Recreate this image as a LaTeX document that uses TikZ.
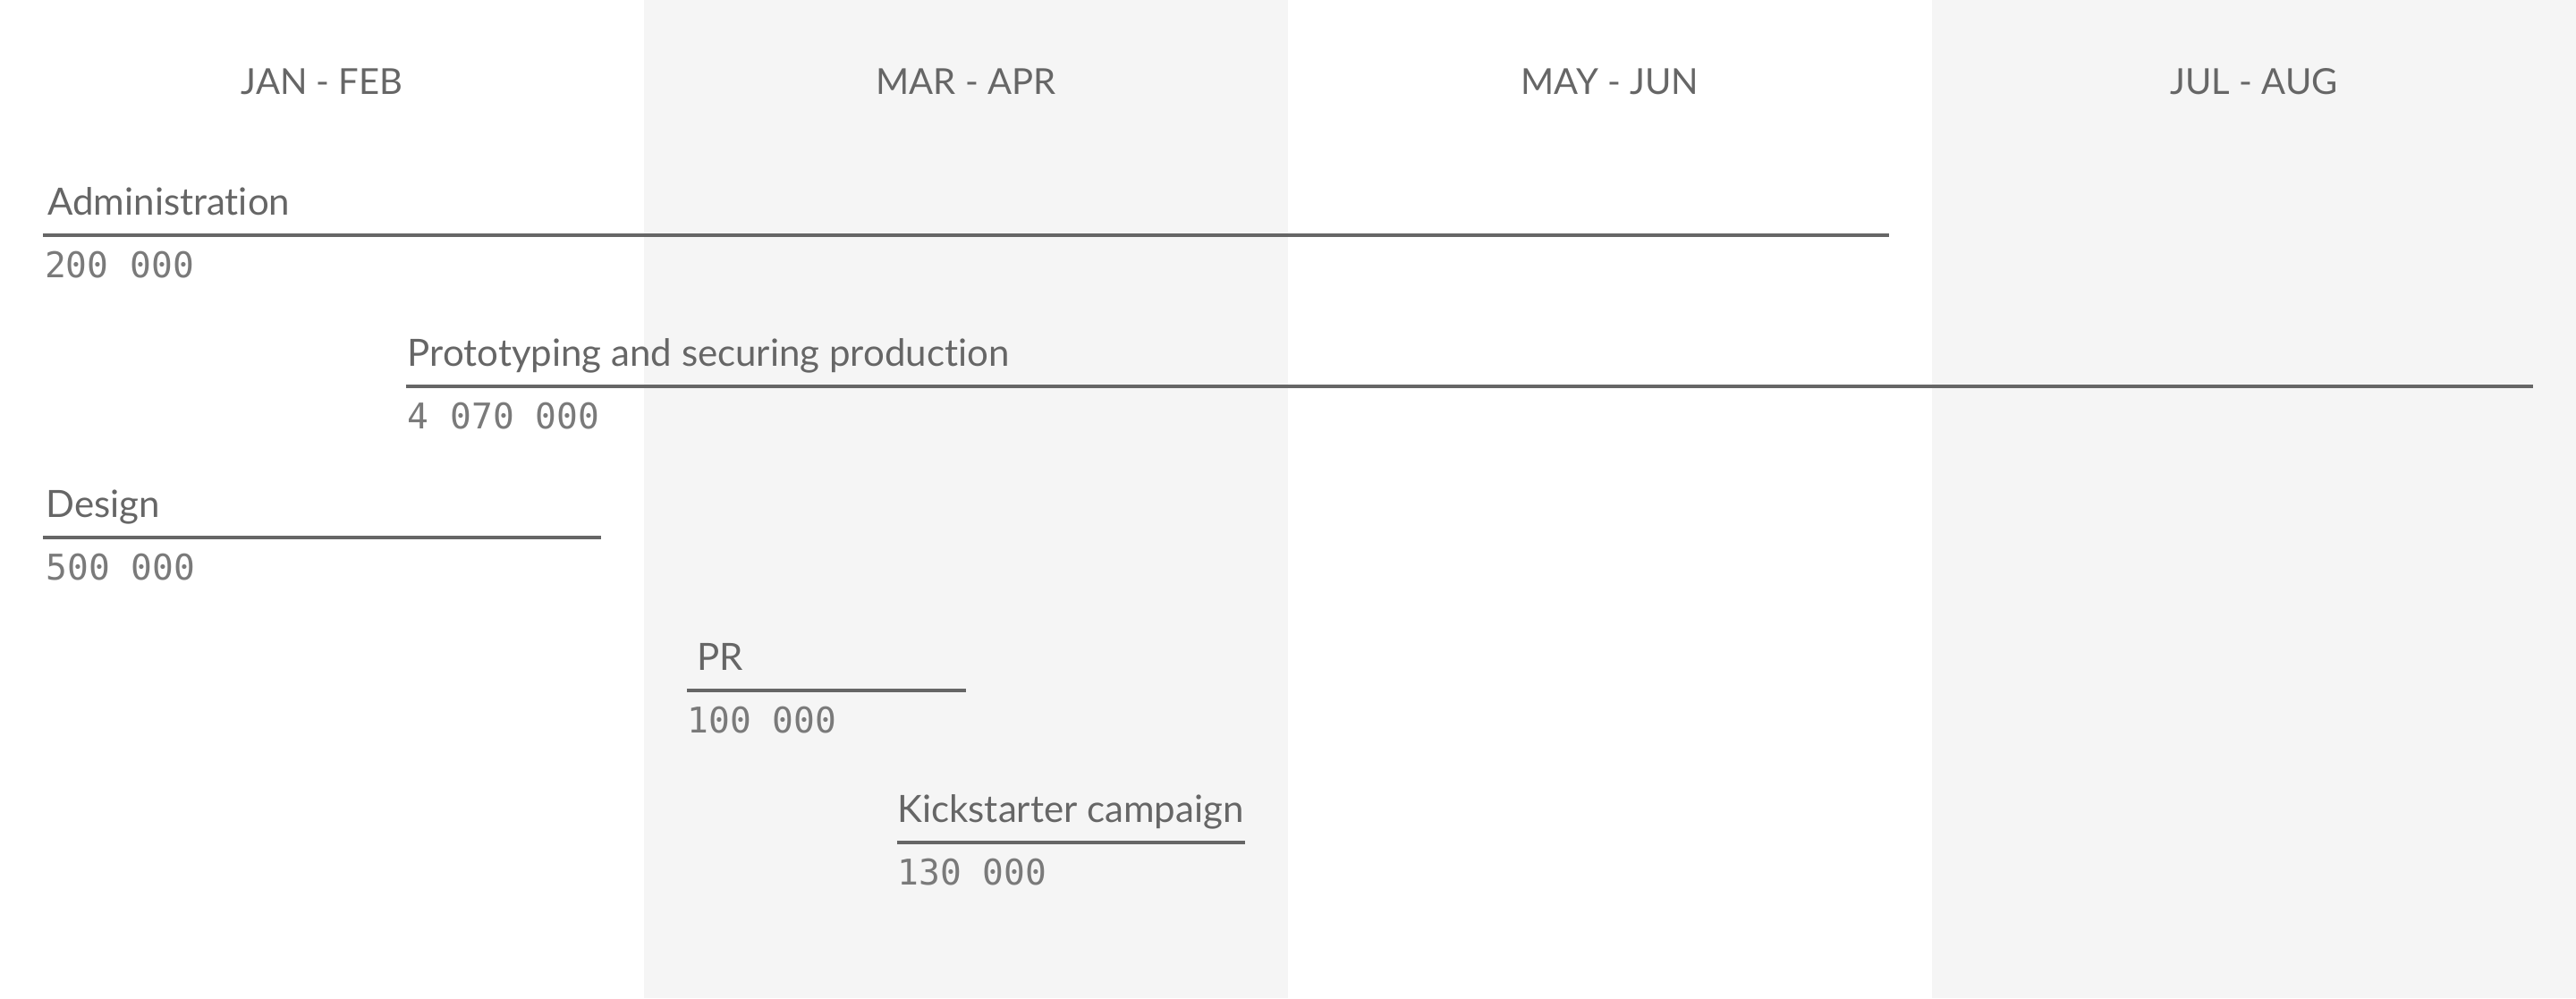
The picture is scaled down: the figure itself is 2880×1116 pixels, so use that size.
\documentclass[tikz,border=0pt]{standalone}
\usepackage{fontspec}
\setmainfont[Ligatures={NoCommon}]{Lato}
\newfontfamily\numfont{DejaVu Sans Mono}
\definecolor{ink}{HTML}{666666}
\definecolor{numink}{HTML}{7A7A7A}
\definecolor{band}{HTML}{F5F5F5}
\tikzset{
  hdr/.style={anchor=base, text=ink, font=\fontsize{20}{24}\selectfont, inner sep=0pt},
  lbl/.style={anchor=base west, text=ink, font=\fontsize{21}{25}\selectfont, inner sep=0pt},
  num/.style={anchor=base west, text=numink, font=\numfont\fontsize{19.8}{23}\selectfont, inner sep=0pt},
  bar/.style={draw=ink, line width=2pt}
}
\begin{document}
\begin{tikzpicture}[x=0.5pt,y=-0.5pt]
\useasboundingbox (0,0) rectangle (2880,1116);
\fill[band] (720,0) rectangle (1440,1116);
\fill[band] (2160,0) rectangle (2880,1116);
% headers
\node[hdr] (h1) at (360,105) {JAN - FEB};
\node[hdr] (h2) at (1080,105) {MAR - APR};
\node[hdr] (h3) at (1800,105) {MAY - JUN};
\node[hdr] (h4) at (2520,105) {JUL - AUG};
% Administration
\coordinate (a1) at (48,262.6); \coordinate (a2) at (2112,262.6);
\draw[bar] (a1) -- (a2);
\node[lbl] (la) at (53,240) {Administration};
\node[num] (na) at (49.6,310) {200 000};
% Prototyping
\coordinate (p1) at (453.7,431.6); \coordinate (p2) at (2832,431.6);
\draw[bar] (p1) -- (p2);
\node[lbl] (lp) at (455.5,409) {Prototyping and securing production};
\node[num] (np) at (455.5,479) {4 070 000};
% Design
\coordinate (d1) at (48,600.6); \coordinate (d2) at (672,600.6);
\draw[bar] (d1) -- (d2);
\node[lbl] (ld) at (51.4,578) {Design};
\node[num] (nd) at (51,648) {500 000};
% PR
\coordinate (r1) at (768,771.5); \coordinate (r2) at (1080,771.5);
\draw[bar] (r1) -- (r2);
\node[lbl] (lr) at (779,749) {PR};
\node[num] (nr) at (768,819) {100 000};
% Kickstarter
\coordinate (k1) at (1003,942); \coordinate (k2) at (1392,942);
\draw[bar] (k1) -- (k2);
\node[lbl] (lk) at (1003,919.5) {Kickstarter campaign};
\node[num] (nk) at (1003,989.5) {130 000};
\end{tikzpicture}
\end{document}
